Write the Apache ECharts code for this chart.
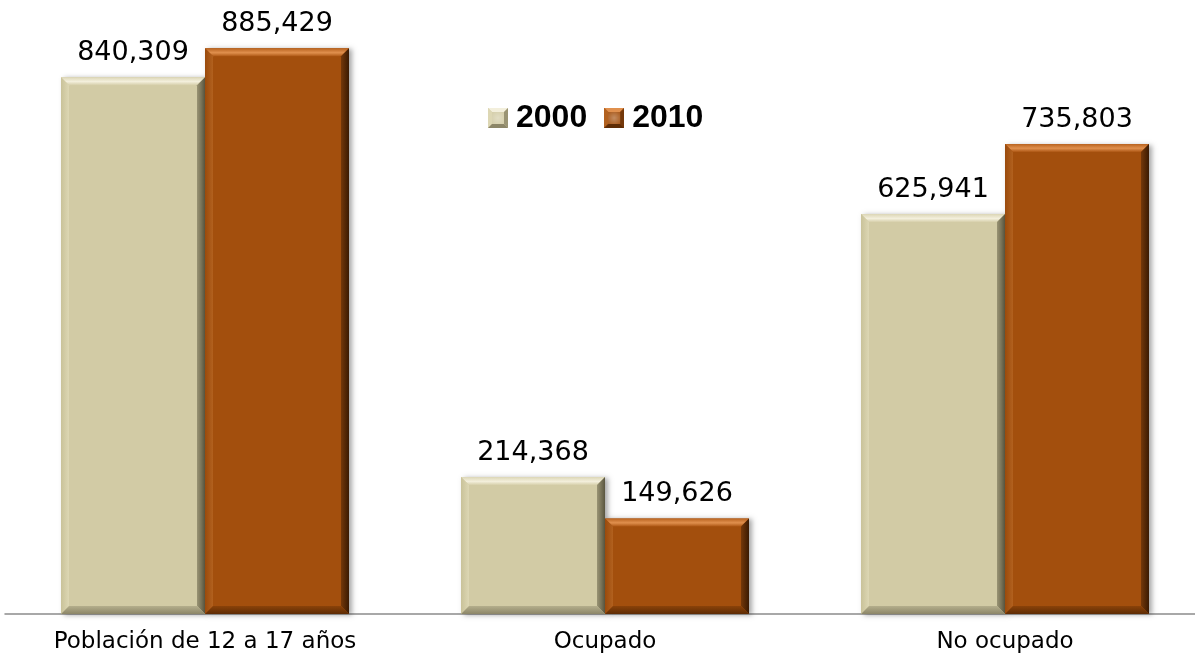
<!DOCTYPE html>
<html>
<head>
<meta charset="utf-8">
<script src="https://cdn.jsdelivr.net/npm/echarts@6/dist/echarts.min.js"></script>
<style>
html,body{margin:0;padding:0;background:#fff;}
#chart{width:1195px;height:657px;}
</style>
</head>
<body>
<div id="chart"></div>
<script>
const categories = ['Población de 12 a 17 años', 'Ocupado', 'No ocupado'];
const seriesNames = ['2000', '2010'];
const values2000 = [840309, 214368, 625941];
const values2010 = [885429, 149626, 735803];

const palettes = [
  {face:'#D2CBA5', topA:'#DCD6B6', topM:'#F3EFDC', topB:'#D6CFAA', leftA:'#C9C299', leftB:'#DDD7B4', rightA:'#9A9474', rightB:'#5A5640', bottomA:'#B4AE8C', bottomB:'#8C8668'},
  {face:'#A34F0D', topA:'#B8621E', topM:'#E0904E', topB:'#AE5815', leftA:'#9A4A0C', leftB:'#B2611F', rightA:'#74380A', rightB:'#3A1A02', bottomA:'#8A4209', bottomB:'#5E2C05'}
];

function iconUrl(pal){
  const c = document.createElement('canvas');
  c.width = 20; c.height = 20;
  const g = c.getContext('2d');
  const s = 20, b = 4;
  g.fillStyle = pal.face; g.fillRect(0,0,s,s);
  const poly = (pts, col) => { g.beginPath(); g.moveTo(pts[0][0],pts[0][1]); for (let i=1;i<pts.length;i++) g.lineTo(pts[i][0],pts[i][1]); g.closePath(); g.fillStyle = col; g.fill(); };
  poly([[0,0],[s,0],[s-b,b],[b,b]], pal.topM);
  poly([[0,0],[b,b],[b,s-b],[0,s]], pal.leftB);
  poly([[s,0],[s,s],[s-b,s-b],[s-b,b]], pal.rightA);
  poly([[0,s],[s,s],[s-b,s-b],[b,s-b]], pal.bottomB);
  const rg = g.createRadialGradient(s/2,s/2,0,s/2,s/2,s/2);
  rg.addColorStop(0,'rgba(255,255,255,0.35)'); rg.addColorStop(1,'rgba(255,255,255,0)');
  g.fillStyle = rg; g.fillRect(b,b,s-2*b,s-2*b);
  return 'image://' + c.toDataURL();
}

const chart = echarts.init(document.getElementById('chart'));

function makeRender(sIdx){
  const pal = palettes[sIdx];
  return function(params, api){
    const ci = api.value(0);
    const val = api.value(1);
    const base = api.coord([ci, 0]);
    const top = api.coord([ci, val]);
    const band = api.size([1, 0])[0];
    const bw = band * 0.36;
    const x = sIdx === 0 ? base[0] - bw : base[0];
    const y = top[1];
    const h = base[1] - top[1];
    const b = 8;
    const G = echarts.graphic.LinearGradient;
    return {
      type:'group',
      children:[
        {type:'rect', shape:{x:x, y:y, width:bw, height:h},
         style:{fill:pal.face, shadowColor:'rgba(0,0,0,0.35)', shadowBlur:5, shadowOffsetX:3, shadowOffsetY:1}},
        {type:'polygon', shape:{points:[[x,y],[x+bw,y],[x+bw-b,y+b],[x+b,y+b]]},
         style:{fill:new G(0,0,0,1,[{offset:0,color:pal.topA},{offset:0.55,color:pal.topM},{offset:1,color:pal.topB}])}},
        {type:'polygon', shape:{points:[[x,y],[x+b,y+b],[x+b,y+h-b],[x,y+h]]},
         style:{fill:new G(0,0,1,0,[{offset:0,color:pal.leftA},{offset:1,color:pal.leftB}])}},
        {type:'polygon', shape:{points:[[x+bw,y],[x+bw,y+h],[x+bw-b,y+h-b],[x+bw-b,y+b]]},
         style:{fill:new G(0,0,1,0,[{offset:0,color:pal.rightA},{offset:1,color:pal.rightB}])}},
        {type:'polygon', shape:{points:[[x,y+h],[x+bw,y+h],[x+bw-b,y+h-b],[x+b,y+h-b]]},
         style:{fill:new G(0,0,0,1,[{offset:0,color:pal.bottomA},{offset:1,color:pal.bottomB}])}},
        {type:'text', style:{
          x:x+bw/2, y:y-24,
          text: val.toLocaleString('en-US'),
          align:'center', verticalAlign:'middle',
          fontFamily:'DejaVu Sans', fontSize:27, fill:'#000'
        }}
      ]
    };
  };
}

const option = {
  backgroundColor:'#ffffff',
  animation:false,
  legend:{
    left:483, top:97,
    itemWidth:20, itemHeight:20, itemGap:17,
    textStyle:{fontFamily:'Liberation Sans, Arial', fontWeight:'bold', fontSize:32, color:'#000', lineHeight:32, padding:[0,0,0,3]},
    data:[
      {name:seriesNames[0], icon:iconUrl(palettes[0])},
      {name:seriesNames[1], icon:iconUrl(palettes[1])}
    ]
  },
  grid:{left:5, top:39, width:1200, height:575, outerBoundsMode:'none', containLabel:false},
  xAxis:{
    type:'category',
    data:categories,
    axisLine:{show:true, lineStyle:{color:'#8C8C8C', width:1.5}},
    axisTick:{show:false},
    axisLabel:{fontFamily:'DejaVu Sans', fontSize:23, color:'#000', margin:17}
  },
  yAxis:{type:'value', min:0, max:900000, show:false, splitLine:{show:false}},
  series:[
    {name:seriesNames[0], type:'custom', renderItem:makeRender(0),
     itemStyle:{color:palettes[0].face},
     encode:{x:0, y:1},
     data:values2000.map((v,i)=>[i,v])},
    {name:seriesNames[1], type:'custom', renderItem:makeRender(1),
     itemStyle:{color:palettes[1].face},
     encode:{x:0, y:1},
     data:values2010.map((v,i)=>[i,v])}
  ]
};
chart.setOption(option);
</script>
</body>
</html>
